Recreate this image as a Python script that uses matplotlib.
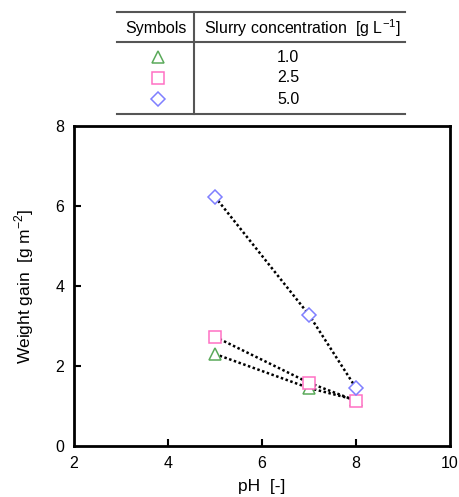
import matplotlib.pyplot as plt
from matplotlib.lines import Line2D

plt.rcParams['font.family'] = ['Liberation Sans', 'DejaVu Sans']

ph = [5, 7, 8]
gain_10 = [2.30, 1.45, 1.15]
gain_25 = [2.73, 1.58, 1.13]
gain_50 = [6.23, 3.28, 1.45]
conc_labels = ['1.0', '2.5', '5.0']

series = [
    (gain_10, '^', '#5aaa5a'),
    (gain_25, 's', '#ff70c4'),
    (gain_50, 'D', '#7f7fff'),
]

fig = plt.figure(figsize=(4.59, 4.97), dpi=100)
ax = fig.add_axes([74 / 459, 51 / 497, 376 / 459, 320 / 497])

for vals, mk, col in series:
    ax.plot(ph, vals, color='black', linestyle=(0, (1, 1)), linewidth=1.8, zorder=2)
    ax.plot(ph, vals, linestyle='none', marker=mk, markersize=8 if mk != 'D' else 7,
            markerfacecolor='white', markeredgecolor=col, markeredgewidth=1.1, zorder=3)

ax.set_xlim(2, 10)
ax.set_ylim(0, 8)
ax.set_xticks([2, 4, 6, 8, 10])
ax.set_yticks([0, 2, 4, 6, 8])
ax.tick_params(direction='in', length=5, width=1.5, labelsize=11.5, pad=7)
for s in ax.spines.values():
    s.set_linewidth(2)
# hide tick marks at the frame corners
for t in ax.xaxis.get_major_ticks()[::4] + ax.yaxis.get_major_ticks()[::4]:
    t.tick1line.set_visible(False)
    t.tick2line.set_visible(False)
ax.set_xlabel('pH  [-]', fontsize=12.5, labelpad=6)
ax.set_ylabel('Weight gain  [g m$^{\\mathregular{-2}}$]', fontsize=12.5, labelpad=14)

# symbol table above the plot
W, H = 459, 497
def fx(x):
    return x / W
def fy(y):
    return 1 - y / H

lc = '#555555'
for y in [12, 42, 114]:
    fig.add_artist(Line2D([fx(117), fx(405)], [fy(y), fy(y)], color=lc, linewidth=1.5))
fig.add_artist(Line2D([fx(194), fx(194)], [fy(12), fy(114)], color=lc, linewidth=1.5))
fig.text(fx(156), fy(28), 'Symbols', ha='center', va='center', fontsize=11.5)
fig.text(fx(302), fy(28), 'Slurry concentration  [g L$^{\\mathregular{-1}}$]',
         ha='center', va='center', fontsize=11.5)
rows_y = [57, 78, 99]
for (vals, mk, col), lab, y in zip(series, conc_labels, rows_y):
    fig.add_artist(Line2D([fx(158)], [fy(y)], marker=mk, markersize=8 if mk != 'D' else 7,
                          markerfacecolor='white', markeredgecolor=col, markeredgewidth=1.1))
    fig.text(fx(288), fy(y), lab, ha='center', va='center', fontsize=11.5)

fig.savefig('out.png', dpi=100)
